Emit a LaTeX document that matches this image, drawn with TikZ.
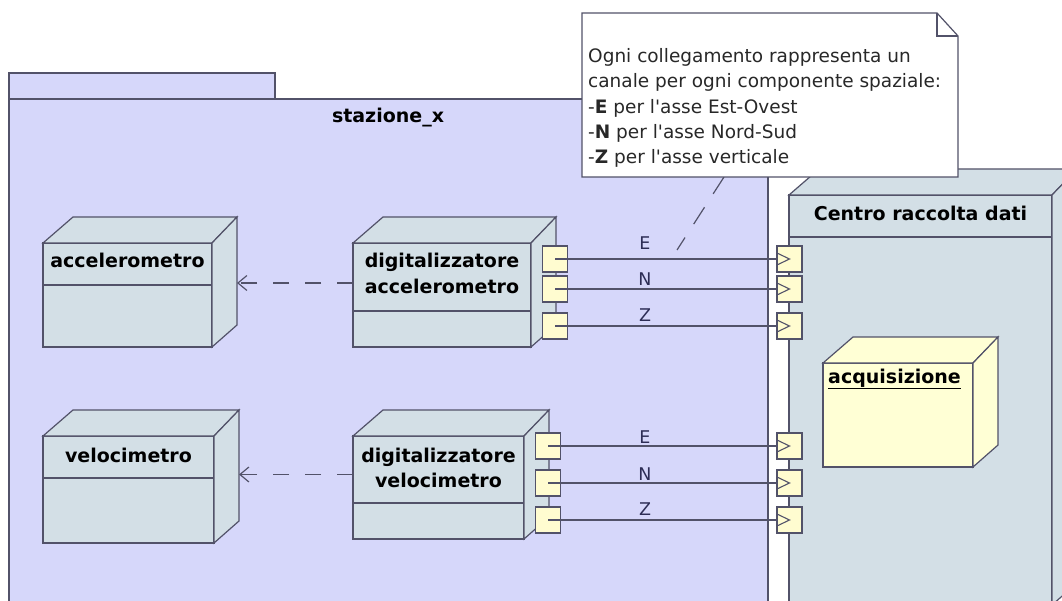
\documentclass[tikz,border=0pt]{standalone}
\usepackage{fontspec}
\setmainfont{DejaVu Sans}
\usetikzlibrary{arrows.meta}
\definecolor{lc}{RGB}{82,82,105}
\definecolor{pkgfill}{RGB}{214,215,250}
\definecolor{nodefill}{RGB}{211,223,230}
\definecolor{yel}{RGB}{255,255,213}
\definecolor{portfill}{RGB}{255,252,208}
\definecolor{lblc}{RGB}{45,45,85}
\definecolor{notec}{RGB}{40,40,40}
\newcommand{\cubefaces}[2][nodefill]{%
  \filldraw[fill=#1, draw=lc, line width=1.2pt]
    (#2.north west) -- ++(30,-26) -- ([shift={(25,-26)}]#2.north east) -- (#2.north east) -- cycle;
  \filldraw[fill=#1, draw=lc, line width=1.2pt]
    (#2.north east) -- ([shift={(25,-26)}]#2.north east) -- ([shift={(25,-22)}]#2.south east) -- (#2.south east) -- cycle;
}
\begin{document}
\begin{tikzpicture}[x=1pt,y=-1pt,
  every node/.style={font=\fontsize{18.5}{24}\selectfont},
  front/.style={draw=lc, line width=1.2pt, rectangle, inner sep=0pt, outer sep=0pt, fill=nodefill},
  pkgbox/.style={draw=lc, line width=1.2pt, rectangle, inner sep=0pt, outer sep=0pt, fill=pkgfill},
  boldlbl/.style={font=\fontsize{19}{26}\selectfont\bfseries, text=black, anchor=base, inner sep=0pt},
  notetxt/.style={font=\fontsize{18.5}{24}\selectfont, text=notec, anchor=base west, inner sep=0pt},
  chlbl/.style={font=\fontsize{17.5}{22}\selectfont, text=lblc, anchor=base, inner sep=0pt},
  port/.style={draw=lc, line width=1.2pt, fill=portfill, rectangle, minimum width=25pt, minimum height=26pt, inner sep=0pt, outer sep=0pt},
  conn/.style={draw=lc, line width=1.1pt},
  divline/.style={draw=lc, line width=1.2pt},
  dep/.style={draw=lc, line width=1.2pt, dash pattern=on 16pt off 16pt, -{Straight Barb[length=9pt,width=15pt]}},
  notelink/.style={draw=lc, line width=1.2pt, dash pattern=on 20pt off 16pt},
  recv/.style={draw=lc, line width=1.1pt}
]
\useasboundingbox (0,0) rectangle (1062,601);
\clip (0,0) rectangle (1062,601);
\fill[white] (0,0) rectangle (1062,601);

% package stazione_x
\node[pkgbox, minimum width=759pt, minimum height=541pt] (stazione) at (388.5,369.5) {};
\filldraw[fill=pkgfill, draw=lc, line width=1.2pt] (stazione.north west) rectangle ([shift={(266,-26)}]stazione.north west);
\node[boldlbl] (stazt) at (388,123) {stazione\_x};

% Centro raccolta dati
\node[front, minimum width=263pt, minimum height=410pt] (centro) at (920.5,400) {};
\cubefaces{centro}
\draw[divline] ([shift={(0,42)}]centro.north west) -- ([shift={(0,42)}]centro.north east);
\node[boldlbl] (centrot) at (920.5,221) {Centro raccolta dati};

% acquisizione
\node[front, fill=yel, minimum width=150pt, minimum height=104pt] (acq) at (898,415) {};
\cubefaces[yel]{acq}
\node[boldlbl, anchor=base west] (acqt) at (828,383) {\underline{acquisizione}};

% accelerometro
\node[front, minimum width=169pt, minimum height=104pt] (acc) at (127.5,295) {};
\cubefaces{acc}
\draw[divline] ([shift={(0,42)}]acc.north west) -- ([shift={(0,42)}]acc.north east);
\node[boldlbl] (acct) at (127.5,268) {accelerometro};

% velocimetro
\node[front, minimum width=171pt, minimum height=107pt] (velo) at (128.5,489.5) {};
\cubefaces{velo}
\draw[divline] ([shift={(0,42)}]velo.north west) -- ([shift={(0,42)}]velo.north east);
\node[boldlbl] (velot) at (128.5,462) {velocimetro};

% digitalizzatore accelerometro
\node[front, minimum width=178pt, minimum height=104pt] (dacc) at (442,295) {};
\cubefaces{dacc}
\draw[divline] ([shift={(0,68)}]dacc.north west) -- ([shift={(0,68)}]dacc.north east);
\node[boldlbl] (dacct1) at (442,268) {digitalizzatore};
\node[boldlbl] (dacct2) at (442,294) {accelerometro};

% digitalizzatore velocimetro
\node[front, minimum width=171pt, minimum height=103pt] (dvel) at (438.5,487.5) {};
\cubefaces{dvel}
\draw[divline] ([shift={(0,67)}]dvel.north west) -- ([shift={(0,67)}]dvel.north east);
\node[boldlbl] (dvelt1) at (438.5,462) {digitalizzatore};
\node[boldlbl] (dvelt2) at (438.5,487) {velocimetro};

% sending ports
\node[port] (aE) at (555,259) {};
\node[port] (aN) at (555,289) {};
\node[port] (aZ) at (555,326) {};
\node[port] (vE) at (548,446) {};
\node[port] (vN) at (548,483) {};
\node[port] (vZ) at (548,520) {};

% receiving ports
\node[port] (raE) at (789.5,259) {};
\node[port] (raN) at (789.5,289) {};
\node[port] (raZ) at (789.5,326) {};
\node[port] (rvE) at (789.5,446) {};
\node[port] (rvN) at (789.5,483) {};
\node[port] (rvZ) at (789.5,520) {};
\foreach \r in {raE,raN,raZ,rvE,rvN,rvZ}{
  \draw[recv] ([shift={(1,-5.5)}]\r.west) -- (\r.center) -- ([shift={(1,5.5)}]\r.west);
}

% channel connectors
\draw[conn] (aE.center) -- (raE.west);
\draw[conn] (aN.center) -- (raN.west);
\draw[conn] (aZ.center) -- (raZ.west);
\draw[conn] (vE.center) -- (rvE.west);
\draw[conn] (vN.center) -- (rvN.west);
\draw[conn] (vZ.center) -- (rvZ.west);
\node[chlbl] (laE) at (645,250) {E};
\node[chlbl] (laN) at (645,286) {N};
\node[chlbl] (laZ) at (645,322) {Z};
\node[chlbl] (lvE) at (645,443) {E};
\node[chlbl] (lvN) at (645,480) {N};
\node[chlbl] (lvZ) at (645,515) {Z};

% dependencies
\draw[dep] ([shift={(0,-12)}]dacc.west) -- ([shift={(25,-12)}]acc.east);
\draw[dep] ([shift={(0,-13)}]dvel.west) -- ([shift={(25,-15)}]velo.east);

% note
\node[inner sep=0pt, outer sep=0pt, minimum width=376pt, minimum height=164pt] (note) at (770,95) {};
\coordinate (notetip) at (677,250);
\draw[notelink] ([xshift=-46pt]note.south) -- (notetip);
\filldraw[fill=white, draw=lc, line width=1.2pt]
  (note.north west) -- ([xshift=-21pt]note.north east) -- ([yshift=-23pt]note.north east)
  -- (note.south east) -- (note.south west) -- cycle;
\draw[lc, line width=1.2pt] ([xshift=-21pt]note.north east) -- ([shift={(-21,23)}]note.north east) -- ([yshift=-23pt]note.north east);
\node[notetxt] (n1) at (588,63) {Ogni collegamento rappresenta un};
\node[notetxt] (n2) at (588,88) {canale per ogni componente spaziale:};
\node[notetxt] (n3) at (588,114) {-\textbf{E} per l\textquotesingle asse Est-Ovest};
\node[notetxt] (n4) at (588,139) {-\textbf{N} per l\textquotesingle asse Nord-Sud};
\node[notetxt] (n5) at (588,164) {-\textbf{Z} per l\textquotesingle asse verticale};
\end{tikzpicture}
\end{document}
